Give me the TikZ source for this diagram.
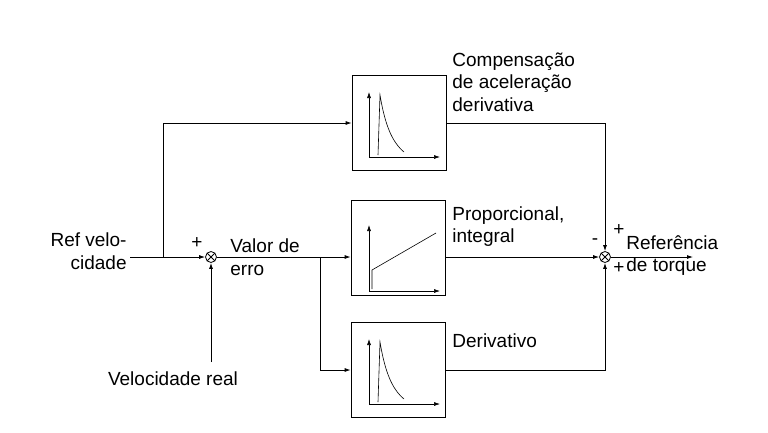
\documentclass[tikz,border=0pt]{standalone}
\usepackage{fontspec}
\setmainfont{Liberation Sans}
\usetikzlibrary{arrows.meta}
\tikzstyle{block} = [rectangle, draw, thick, minimum width=94pt, minimum height=95pt, inner sep=0pt]
\tikzstyle{sum} = [circle, draw, minimum size=11pt, inner sep=0pt, path picture={\draw (path picture bounding box.north west) -- (path picture bounding box.south east) (path picture bounding box.north east) -- (path picture bounding box.south west);}]
\tikzstyle{line} = [draw, -{Latex[length=6pt,width=4pt]}]
\tikzstyle{lbl} = [font=\fontsize{19}{22.5}\selectfont, align=left, inner sep=1pt]
\begin{document}
\begin{tikzpicture}[x=1pt, y=-1pt, line width=0.8pt]
    \useasboundingbox (0,0) rectangle (768,432);
    % Place nodes
    \node [block] (accel) at (399,123) {};
    \node [block] (prop) at (398,248) {};
    \node [block] (deriv) at (398,370) {};
    \node [sum] (s1) at (211,257) {};
    \node [sum] (s2) at (605,257) {};
    \coordinate (in) at (130,257);
    \coordinate (real) at (211,362);
    \coordinate (out) at (693,257);
    \coordinate (b1) at (163,257);
    \coordinate (b2) at (320,257);
    % Labels
    \node [lbl, align=right, anchor=east] (ref) at (128,251) {Ref velo-\\cidade};
    \node [lbl, anchor=north] (vreal) at (173,370) {Velocidade real};
    \node [lbl, anchor=south west] (erro) at (229,277) {Valor de\\erro};
    \node [lbl, anchor=south west] (tacc) at (451,113) {Compensação\\de aceleração\\derivativa};
    \node [lbl, anchor=south west] (tprop) at (451,248) {Proporcional,\\integral};
    \node [lbl, anchor=west] (tder) at (451,341) {Derivativo};
    \node [lbl, anchor=south west] (tout) at (625,277) {Referência\\de torque};
    \node [lbl] (p1) at (197,243) {+};
    \node [lbl] (p2) at (619,230) {+};
    \node [lbl] (p3) at (619,268) {+};
    \node [lbl] (m1) at (595,242) {-};
    % Draw edges
    \draw (in) -- (b1);
    \path [line] (b1) -- (s1);
    \path [line] (b1) |- (accel);
    \path [line] (real) -- (s1);
    \draw (s1) -- (b2);
    \path [line] (b2) -- (b2 -| prop.west);
    \path [line] (b2) |- (deriv);
    \path [line] (accel) -| (s2);
    \path [line] (b2 -| prop.east) -- (s2);
    \path [line] (deriv) -| (s2);
    \path [line] (s2) -- (out);
    % Plots in blocks
    \foreach \b/\dy in {accel/0, deriv/247} {
      \draw [-{Latex[length=6pt,width=4pt]}, line width=0.6pt] (369,157+\dy) -- (369,92+\dy);
      \draw [-{Latex[length=6pt,width=4pt]}, line width=0.6pt] (369,157+\dy) -- (440,157+\dy);
      \draw [line width=0.6pt] (378,155+\dy) -- (380,95+\dy) .. controls (385,125+\dy) and (392,142+\dy) .. (404,152+\dy);
    }
    \draw [-{Latex[length=6pt,width=4pt]}, line width=0.6pt] (369,291) -- (369,225);
    \draw [-{Latex[length=6pt,width=4pt]}, line width=0.6pt] (369,291) -- (440,291);
    \draw [line width=0.6pt] (372,289) -- (372,270) -- (436,233);
\end{tikzpicture}
\end{document}
